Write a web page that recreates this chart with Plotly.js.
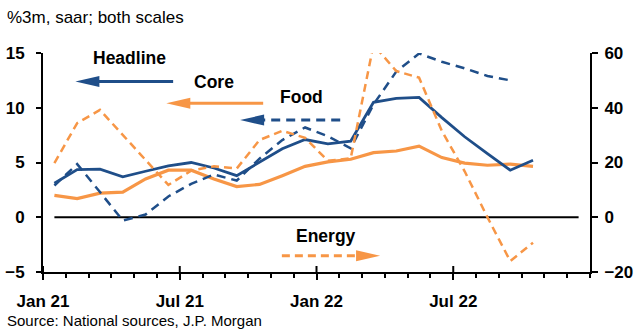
<!DOCTYPE html>
<html>
<head>
<meta charset="utf-8">
<script src="https://cdn.plot.ly/plotly-3.0.1.min.js"></script>
<style>html,body{margin:0;padding:0;background:#fff;}#chart{width:634px;height:331px;}</style>
</head>
<body>
<div id="chart"></div>
<script>
// Months Jan 21 .. Dec 22 (axis spans 24 months)
const months = ['Jan 21','Feb 21','Mar 21','Apr 21','May 21','Jun 21','Jul 21','Aug 21','Sep 21','Oct 21','Nov 21','Dec 21',
                'Jan 22','Feb 22','Mar 22','Apr 22','May 22','Jun 22','Jul 22','Aug 22','Sep 22','Oct 22','Nov 22','Dec 22'];
const tickLabels = ['Jan 21','Jul 21','Jan 22','Jul 22'];
const tickMonths = [0, 6, 12, 18];

// %3m saar, left scale
const headline = [3.1, 4.35, 4.4, 3.7, 4.2, 4.7, 5.0, 4.5, 3.8, 5.05, 6.25, 7.1, 6.7, 6.95, 10.5, 10.85, 10.95, 9.1, 7.35, 5.8, 4.3, 5.2];
const core     = [2.9, 4.85, 2.3, -0.3, 0.25, 1.9, 3.05, 3.9, 3.35, 5.35, 7.05, 8.2, 7.4, 6.3, 10.3, 13.3, 14.95, 14.2, 13.6, 12.9, 12.5];
const food     = [2.0, 1.7, 2.2, 2.3, 3.5, 4.3, 4.3, 3.5, 2.8, 3.0, 3.8, 4.65, 5.05, 5.3, 5.9, 6.05, 6.5, 5.45, 4.95, 4.75, 4.85, 4.65];
// right scale
const energy   = [19.8, 34.4, 39.2, 30.0, 21.0, 11.8, 17.0, 18.6, 17.8, 28.2, 31.6, 29.0, 20.6, 21.5, 63, 53.4, 51, 31.5, 16.8, 0, -16, -9.3];

const leftTicks = [-5, 0, 5, 10, 15];
const rightTicks = [-20, 0, 20, 40, 60];

const BLUE = '#1F4E89';
const ORANGE = '#F79646';
const FONT = 'Liberation Sans, Arial, sans-serif';

const xs = arr => arr.map((_, i) => i + 0.5);

const traces = [
  {x: xs(energy), y: energy, yaxis: 'y2', mode: 'lines', line: {color: ORANGE, width: 2.5, dash: '8px,5px'}, name: 'Energy'},
  {x: xs(food), y: food, mode: 'lines', line: {color: ORANGE, width: 3.2}, name: 'Food'},
  {x: xs(core), y: core, mode: 'lines', line: {color: BLUE, width: 2.5, dash: '9px,6px'}, name: 'Core'},
  {x: xs(headline), y: headline, mode: 'lines', line: {color: BLUE, width: 2.8}, name: 'Headline'}
];

// label / arrow placements (month index, left-scale value)
const labels = [
  {text: 'Headline', x: 3.80, y: 14.57},
  {text: 'Core', x: 7.49, y: 12.32},
  {text: 'Food', x: 11.34, y: 10.95},
  {text: 'Energy', x: 12.42, y: -1.73}
];
const arrows = [
  {tail: 5.71, tip: 1.42, y: 12.40, color: BLUE, dash: 'solid', dir: -1},
  {tail: 9.66, tip: 5.41, y: 10.41, color: ORANGE, dash: 'solid', dir: -1},
  {tail: 13.04, tip: 8.65, y: 8.88, color: BLUE, dash: '9px,6px', dir: -1},
  {tail: 10.48, tip: 14.79, y: -3.52, color: ORANGE, dash: '8px,5px', dir: 1}
];

const shapes = [];
// zero line
shapes.push({type: 'line', xref: 'x', yref: 'y', x0: 0.5, x1: months.length - 0.5, y0: 0, y1: 0, line: {color: '#000', width: 2}, layer: 'below'});
// major ticks crossing the axis (inner part)
tickMonths.forEach(m => {
  shapes.push({type: 'line', xref: 'x', yref: 'paper', ysizemode: 'pixel', yanchor: 0, x0: m, x1: m, y0: 0, y1: 6, line: {color: '#000', width: 2}});
});
arrows.forEach(a => {
  shapes.push({type: 'line', xref: 'x', yref: 'y', x0: a.tail, x1: a.tip - a.dir * 0.6, y0: a.y, y1: a.y, line: {color: a.color, width: 3, dash: a.dash}});
  const L = 24 * (a.dir < 0 ? 1 : -1);
  shapes.push({type: 'path', xref: 'x', yref: 'y', xsizemode: 'pixel', ysizemode: 'pixel', xanchor: a.tip, yanchor: a.y,
    path: `M0,0 L${L},5.5 L${L},-5.5 Z`, fillcolor: a.color, line: {width: 0}});
});

const annotations = labels.map(l => ({
  text: '<b>' + l.text + '</b>', x: l.x, y: l.y, xref: 'x', yref: 'y', showarrow: false,
  font: {family: FONT, size: 17.5, color: '#000'}, xanchor: 'center', yanchor: 'middle'
}));
annotations.push({text: 'Source: National sources, J.P. Morgan', xref: 'paper', yref: 'paper', x: -0.069, y: -0.222,
  xanchor: 'left', yanchor: 'middle', showarrow: false, font: {family: FONT, size: 15, color: '#000'}});

const layout = {
  width: 634, height: 331,
  margin: {l: 43, r: 44, t: 53, b: 59},
  paper_bgcolor: '#fff', plot_bgcolor: '#fff',
  showlegend: false,
  font: {family: FONT, color: '#000'},
  title: {text: '%3m, saar; both scales', x: 0.011, xanchor: 'left', xref: 'container', y: 1 - 17 / 331, yanchor: 'middle', yref: 'container',
          font: {family: FONT, size: 17, color: '#000'}},
  xaxis: {
    range: [0, months.length], showgrid: false, zeroline: false,
    showline: true, linecolor: '#000', linewidth: 2,
    tickvals: tickMonths, ticktext: tickLabels,
    ticks: 'outside', ticklen: 6, tickwidth: 2, tickcolor: '#000',
    ticklabelstandoff: 7,
    minor: {dtick: 1, tick0: 0, ticks: 'outside', ticklen: 4, tickwidth: 2, tickcolor: '#000'},
    tickfont: {family: FONT, size: 17, color: '#000', weight: 'bold'},
    fixedrange: true
  },
  yaxis: {
    range: [-5, 15], tickvals: leftTicks, showgrid: false, zeroline: false,
    showline: true, linecolor: '#000', linewidth: 2,
    ticks: 'outside', ticklen: 5, tickwidth: 2, tickcolor: '#000',
    ticklabelstandoff: 8,
    tickfont: {family: FONT, size: 17, color: '#000', weight: 'bold'}
  },
  yaxis2: {
    range: [-20, 60], tickvals: rightTicks, overlaying: 'y', side: 'right', showgrid: false, zeroline: false,
    showline: true, linecolor: '#000', linewidth: 2,
    ticks: 'outside', ticklen: 6, tickwidth: 2, tickcolor: '#000',
    ticklabelstandoff: 3,
    tickfont: {family: FONT, size: 17, color: '#000', weight: 'bold'}
  },
  shapes: shapes,
  annotations: annotations
};

Plotly.newPlot('chart', traces, layout, {staticPlot: true, displayModeBar: false});
</script>
</body>
</html>
